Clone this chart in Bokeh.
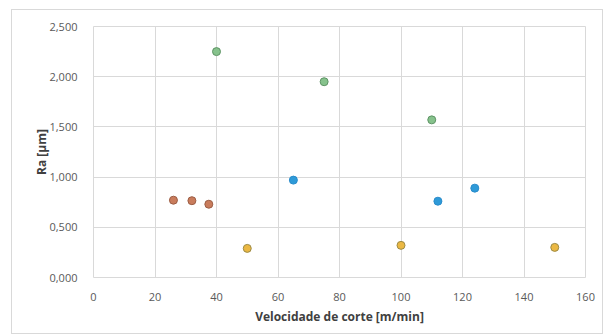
from bokeh.plotting import figure
from bokeh.models import Range1d, FixedTicker, CustomJSTickFormatter
from bokeh.embed import file_html
from bokeh.resources import INLINE

# Data (Velocidade de corte [m/min], Ra [µm])
green_x = [40, 75, 110]
green_y = [2.25, 1.95, 1.57]
orange_x = [26, 32, 37.5]
orange_y = [0.77, 0.765, 0.73]
yellow_x = [50, 100, 150]
yellow_y = [0.29, 0.32, 0.30]
blue_x = [65, 112, 124]
blue_y = [0.97, 0.76, 0.89]

x_ticks = [0, 20, 40, 60, 80, 100, 120, 140, 160]
y_ticks = [0, 0.5, 1.0, 1.5, 2.0, 2.5]

p = figure(
    frame_width=492, frame_height=251,
    min_border_left=81, min_border_top=16, min_border_right=17, min_border_bottom=56,
    x_range=Range1d(0, 160), y_range=Range1d(0, 2.5),
    output_backend="svg", toolbar_location=None,
)
p.margin = (9, 0, 0, 11)
p.styles = {"border": "1px solid #d9d9d9"}
p.background_fill_color = "white"
p.border_fill_color = "white"
p.outline_line_color = "#d9d9d9"

p.xaxis.ticker = FixedTicker(ticks=x_ticks)
p.yaxis.ticker = FixedTicker(ticks=y_ticks)
p.yaxis.formatter = CustomJSTickFormatter(code="return tick.toFixed(3).replace('.', ',');")

for ax in (p.xaxis[0], p.yaxis[0]):
    ax.axis_line_color = None
    ax.major_tick_line_color = None
    ax.minor_tick_line_color = None
    ax.major_label_text_font = "Open Sans"
    ax.major_label_text_font_size = "11px"
    ax.major_label_text_color = "#595959"
    ax.axis_label_text_font = "Open Sans"
    ax.axis_label_text_font_size = "12px"
    ax.axis_label_text_font_style = "bold"
    ax.axis_label_text_color = "#404040"

p.xaxis.axis_label = "Velocidade de corte [m/min]"
p.yaxis.axis_label = "Ra [µm]"
p.xaxis.major_label_standoff = 9
p.yaxis.major_label_standoff = 10
p.xaxis.axis_label_standoff = 4
p.yaxis.axis_label_standoff = -4

p.xgrid.grid_line_color = "#d9d9d9"
p.ygrid.grid_line_color = "#d9d9d9"

p.scatter(green_x, green_y, size=8, fill_color="#86c28c", line_color="#5f9466", line_width=1)
p.scatter(orange_x, orange_y, size=8, fill_color="#c97c5c", line_color="#9c5e45", line_width=1)
p.scatter(yellow_x, yellow_y, size=8, fill_color="#ebb843", line_color="#9d8b45", line_width=1)
p.scatter(blue_x, blue_y, size=8, fill_color="#2e9ad8", line_color="#2a8ccb", line_width=1)

open("out.html", "w").write(file_html(p, INLINE))
